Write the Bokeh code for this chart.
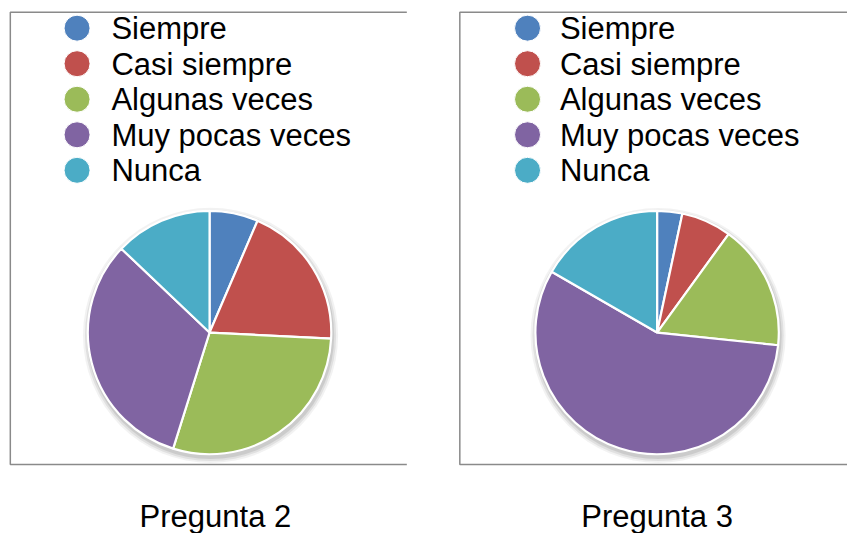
import numpy as np
from bokeh.plotting import figure
from bokeh.models import Range1d, ColumnDataSource
from bokeh.core.properties import value
from bokeh.embed import file_html
from bokeh.resources import INLINE

categories = ["Siempre", "Casi siempre", "Algunas veces", "Muy pocas veces", "Nunca"]
colors = ["#4F81BD", "#C0504D", "#9BBB59", "#8064A2", "#4BACC6"]
pregunta2 = [2, 6, 9, 10, 4]
pregunta3 = [1, 2, 5, 17, 5]
titles = ["Pregunta 2", "Pregunta 3"]

W, H = 847, 533
REF_W, REF_H = 863, 549
FONT = value("Liberation Sans")

p = figure(width=W, height=H, output_backend="svg", toolbar_location=None,
           x_range=Range1d(0, REF_W), y_range=Range1d(0, REF_H),
           min_border=0, outline_line_color=None)
p.axis.visible = False
p.grid.visible = False
p.background_fill_color = "white"
p.border_fill_color = "white"


def Y(ys):
    # layout y measured from the top -> data y
    return REF_H - ys


panels = [
    dict(vals=pregunta2, title=titles[0], box=(10, 414), cx=213, title_x=219,
         mx=78, tx=113),
    dict(vals=pregunta3, title=titles[1], box=(468, 900), cx=669, title_x=669,
         mx=537, tx=570),
]
cy = 342
R = 124
box_top, box_bot = 12, 478
row0, row_step = 28.5, 36.6

for pan in panels:
    x0, x1 = pan["box"]
    # frame box
    p.line([x1, x0, x0, x1], [Y(box_top), Y(box_top), Y(box_bot), Y(box_bot)],
           line_color="#8a8a8a", line_width=1.5)

    # soft shadow
    for k, a in [(6, 0.05), (4, 0.07), (2, 0.09)]:
        p.circle(x=[pan["cx"] + 1], y=[Y(cy) - 3], radius=R + k,
                 fill_color="#000000", fill_alpha=a, line_color=None)

    vals = np.array(pan["vals"], dtype=float)
    frac = vals / vals.sum()
    cum = np.concatenate([[0], np.cumsum(frac)])
    starts = np.pi / 2 - cum[1:] * 2 * np.pi
    ends = np.pi / 2 - cum[:-1] * 2 * np.pi
    src = ColumnDataSource(dict(start=starts, end=ends, color=colors,
                                label=categories))
    p.wedge(x=pan["cx"], y=Y(cy), radius=R, start_angle="start",
            end_angle="end", fill_color="color", line_color="white",
            line_width=2.2, source=src)

    # legend
    ys = [Y(row0 + i * row_step) for i in range(len(categories))]
    p.scatter(x=[pan["mx"]] * len(categories), y=ys, size=26, marker="circle",
              fill_color=colors, line_color="white", line_width=1)
    p.text(x=[pan["tx"]] * len(categories), y=[v - 0.5 for v in ys],
           text=categories, text_font=FONT, text_font_size="31px",
           text_color="black", text_baseline="middle", text_align="left")

    # title
    p.text(x=[pan["title_x"]], y=[Y(532)], text=[pan["title"]], text_font=FONT,
           text_font_size="31px", text_color="black",
           text_baseline="middle", text_align="center")

open("out.html", "w").write(file_html(p, INLINE))
